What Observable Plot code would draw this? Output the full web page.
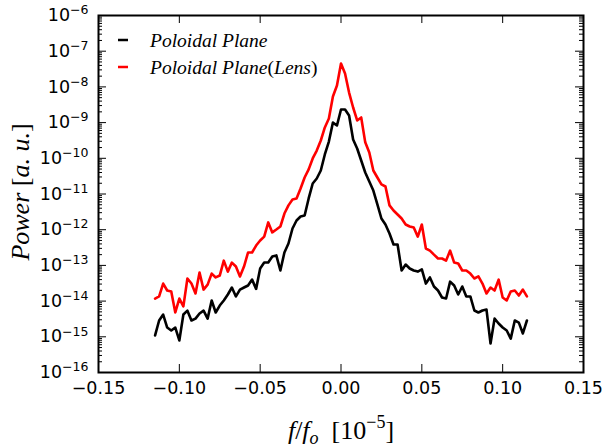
<!DOCTYPE html>
<html>
<head>
<meta charset="utf-8">
<script src="https://cdn.jsdelivr.net/npm/d3@7"></script>
<script src="https://cdn.jsdelivr.net/npm/@observablehq/plot@0.6"></script>
<style>
  html, body { margin: 0; padding: 0; background: #fff; }
  #chart svg { display: block; }
</style>
</head>
<body>
<div id="chart"></div>
<script>
// frequency f/fo [1e-5]
const freq = [-0.115,-0.1125,-0.11,-0.1075,-0.105,-0.1025,-0.1,-0.0975,-0.095,-0.0925,
  -0.09,-0.0875,-0.085,-0.0825,-0.08,-0.0775,-0.075,-0.0725,-0.07,-0.0675,
  -0.065,-0.0625,-0.06,-0.0575,-0.055,-0.0525,-0.05,-0.0475,-0.045,-0.0425,
  -0.04,-0.0375,-0.035,-0.0325,-0.03,-0.0275,-0.025,-0.0225,-0.02,-0.0175,
  -0.015,-0.0125,-0.01,-0.0075,-0.005,-0.0025,0,0.0025,0.005,0.0075,
  0.01,0.0125,0.015,0.0175,0.02,0.0225,0.025,0.0275,0.03,0.0325,
  0.035,0.0375,0.04,0.0425,0.045,0.0475,0.05,0.0525,0.055,0.0575,
  0.06,0.0625,0.065,0.0675,0.07,0.0725,0.075,0.0775,0.08,0.0825,
  0.085,0.0875,0.09,0.0925,0.095,0.0975,0.1,0.1025,0.105,0.1075,
  0.11,0.1125,0.115];

// Poloidal Plane (black)
const powerPlane = [1.09e-15,2.86e-15,4.2e-15,1.82e-15,1.5e-15,1.82e-15,7.9e-16,4.2e-15,5.4e-15,2.86e-15,
  3.23e-15,4.5e-15,5.4e-15,3.23e-15,1.04e-14,4.8e-15,7.5e-15,1.04e-14,1.53e-14,2.4e-14,
  1.35e-14,2.1e-14,2.4e-14,2.73e-14,4.0e-14,2.2e-14,8.2e-14,1.2e-13,1.2e-13,1.78e-13,
  1.9e-13,7.2e-14,2.3e-13,4.1e-13,1.08e-12,1.81e-12,2.34e-12,2.5e-12,7.5e-12,1.97e-11,
  2.72e-11,4.55e-11,1.28e-10,2.95e-10,1.0e-9,8.3e-10,2.33e-9,2.33e-9,1.58e-9,3.36e-10,
  1.88e-10,8.7e-11,4.0e-11,2.24e-11,1.25e-11,5.1e-12,2.06e-12,1.4e-12,7.8e-13,3.85e-13,
  3.85e-13,7.2e-14,1.06e-13,8.2e-14,7.2e-14,6.7e-14,7.7e-14,3.1e-14,4.6e-14,2.56e-14,
  1.98e-14,1.26e-14,1.18e-14,3.5e-14,2.73e-14,1.53e-14,2.56e-14,1.35e-14,1.35e-14,5.45e-15,
  4.8e-15,5.45e-15,5.8e-15,6.5e-16,3.23e-15,2.36e-15,1.82e-15,1.5e-15,8.9e-16,2.86e-15,
  2.5e-15,1.24e-15,2.86e-15];

// Poloidal Plane (Lens) (red)
const powerLens = [1.18e-14,1.35e-14,3.1e-14,1.98e-14,1.86e-14,4.8e-15,1.18e-14,7.1e-15,4.3e-14,3.1e-14,
  1.63e-14,6.3e-14,2.1e-14,2.9e-14,5.9e-14,4.6e-14,5.2e-14,1.36e-13,6.7e-14,1.2e-13,
  9.3e-14,4.9e-14,9.3e-14,2.3e-13,2.3e-13,3.6e-13,5.0e-13,6.4e-13,1.6e-12,8.4e-13,
  1.01e-12,1.23e-12,2.84e-12,4.8e-12,7.0e-12,7.5e-12,1.43e-11,2.9e-11,4.9e-11,9.9e-11,
  1.65e-10,3.15e-10,7.3e-10,1.3e-9,5.4e-9,1.09e-8,4.5e-8,2.37e-8,6.95e-9,2.65e-9,
  1.15e-9,1.39e-9,2.8e-10,1.45e-10,4.55e-11,2.9e-11,1.85e-11,1.62e-11,4.8e-12,3.45e-12,
  2.66e-12,2.06e-12,1.4e-12,1.23e-12,1.15e-12,6.4e-13,1.4e-12,2.97e-13,2.6e-13,2.0e-13,
  1.56e-13,1.56e-13,1.36e-13,2.6e-13,1.2e-13,1.13e-13,7.2e-14,7.2e-14,5.9e-14,4.3e-14,
  4.9e-14,3.1e-14,1.63e-14,2.4e-14,1.98e-14,4.0e-14,1.26e-14,1.04e-14,1.86e-14,1.98e-14,
  1.43e-14,2.1e-14,1.35e-14];

const seriesNames = ["Poloidal Plane", "Poloidal Plane(Lens)"];
const xTicks = [-0.15, -0.10, -0.05, 0.00, 0.05, 0.10, 0.15];
const yExponents = [-16, -15, -14, -13, -12, -11, -10, -9, -8, -7, -6];

const W = 605, H = 447;
const mL = 98, mR = 22, mT = 15, mB = 75;
const innerW = W - mL - mR, innerH = H - mT - mB;

const yMajor = yExponents.map(e => Math.pow(10, e));
const yMinor = [];
for (const e of yExponents.slice(0, -1)) for (let m = 2; m <= 9; m++) yMinor.push(m * Math.pow(10, e));

const dataPlane = freq.map((f, i) => ({f, p: powerPlane[i]}));
const dataLens = freq.map((f, i) => ({f, p: powerLens[i]}));

const chart = Plot.plot({
  width: W, height: H,
  marginLeft: mL, marginRight: mR, marginTop: mT, marginBottom: mB,
  style: {fontFamily: "DejaVu Sans", background: "white", color: "black"},
  x: {domain: [-0.15, 0.15]},
  y: {type: "log", domain: [1e-16, 1e-6]},
  marks: [
    Plot.line(dataPlane, {x: "f", y: "p", stroke: "black", strokeWidth: 2.6, strokeLinejoin: "round"}),
    Plot.line(dataLens, {x: "f", y: "p", stroke: "red", strokeWidth: 2.6, strokeLinejoin: "round"}),
    Plot.tickY(yMajor, {y: d => d, insetRight: innerW - 8, stroke: "black", strokeWidth: 1}),
    Plot.tickY(yMajor, {y: d => d, insetLeft: innerW - 8, stroke: "black", strokeWidth: 1}),
    Plot.tickY(yMinor, {y: d => d, insetRight: innerW - 4, stroke: "black", strokeWidth: 1}),
    Plot.tickY(yMinor, {y: d => d, insetLeft: innerW - 4, stroke: "black", strokeWidth: 1}),
    Plot.tickX(xTicks, {x: d => d, insetTop: innerH - 8, stroke: "black", strokeWidth: 1}),
    Plot.tickX(xTicks, {x: d => d, insetBottom: innerH - 8, stroke: "black", strokeWidth: 1}),
    Plot.frame({stroke: "black", strokeWidth: 2}),
    Plot.axisX({ticks: xTicks, tickSize: 0, tickPadding: 9, tickFormat: d3.format(".2f"),
      fontSize: 17.5, fontFamily: "DejaVu Sans", label: null}),
    Plot.axisY({ticks: yMajor, tickSize: 0, tickPadding: 10,
      tickFormat: d => "10^" + Math.round(Math.log10(d)),
      fontSize: 17.5, fontFamily: "DejaVu Sans", label: null})
  ]
});

const svg = d3.select(chart);
// superscript exponents on y tick labels
svg.selectAll('g[aria-label="y-axis tick label"] text').each(function() {
  const t = this.textContent;
  const [base, exp] = t.split("^");
  const sel = d3.select(this);
  sel.text(base);
  sel.append("tspan").attr("dy", "-0.55em").attr("font-size", 12.5)
    .text(exp.replace("-", "\u2212"));
});

// y-axis title
const yl = svg.append("text")
  .attr("transform", "translate(29,192) rotate(-90)")
  .attr("text-anchor", "middle")
  .attr("font-family", "Liberation Serif")
  .attr("font-size", 26)
  .attr("fill", "black");
yl.append("tspan").attr("font-style", "italic").text("Power ");
yl.append("tspan").text("[");
yl.append("tspan").attr("font-style", "italic").text("a. u.");
yl.append("tspan").text("]");

// x-axis title
const xl = svg.append("text")
  .attr("x", 341).attr("y", 439)
  .attr("text-anchor", "middle")
  .attr("font-family", "Liberation Serif")
  .attr("font-size", 26)
  .attr("fill", "black");
xl.append("tspan").attr("font-style", "italic").text("f");
xl.append("tspan").text("/");
xl.append("tspan").attr("font-style", "italic").text("f");
xl.append("tspan").attr("font-style", "italic").attr("font-size", 18).attr("dy", 5).text("o");
xl.append("tspan").attr("dy", -5).text("\u2002[10");
xl.append("tspan").attr("font-size", 18).attr("dy", -11).text("\u22125");
xl.append("tspan").attr("dy", 11).text("]");

// legend
const legendColors = ["black", "red"];
const lg = svg.append("g").attr("text-anchor", "start");
seriesNames.forEach((name, i) => {
  const y = 40 + i * 27;
  lg.append("line").attr("x1", 118).attr("x2", 128).attr("y1", y).attr("y2", y)
    .attr("stroke", legendColors[i]).attr("stroke-width", 2.5);
  const t = lg.append("text").attr("x", 150).attr("y", y + 6.5)
    .attr("text-anchor", "start")
    .attr("font-family", "Liberation Serif").attr("font-size", 19.5).attr("fill", "black");
  const m = name.match(/^(.*?)(\((.*)\))?$/);
  t.append("tspan").attr("font-style", "italic").text(m[1]);
  if (m[2]) {
    t.append("tspan").text("(");
    t.append("tspan").attr("font-style", "italic").text(m[3]);
    t.append("tspan").text(")");
  }
});

document.getElementById("chart").appendChild(chart);
</script>
</body>
</html>
